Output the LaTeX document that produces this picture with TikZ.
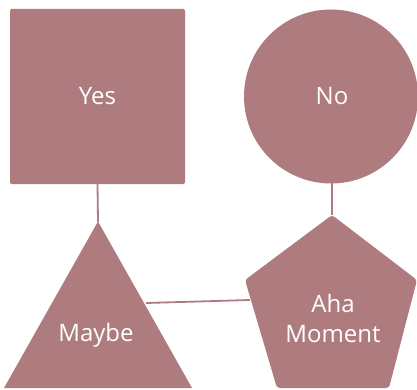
\documentclass[tikz,border=0pt]{standalone}
\usepackage{fontspec}
\setmainfont{Open Sans}
\definecolor{rose}{HTML}{AE7B7F}
\begin{document}
\begin{tikzpicture}[x=1pt,y=-1pt,
  shapefill/.style={fill=rose,draw=none},
  lbl/.style={text=white,font=\fontsize{24}{30}\selectfont,align=center,inner sep=0pt},
  link/.style={draw=rose,line width=1.8pt}]
\useasboundingbox (0,0) rectangle (417,390);
% square
\path[shapefill,rounded corners=1.5pt] (10,9) rectangle (185,184);
\coordinate (sqb) at (97.5,184);
% circle
\path[shapefill] (331,96.5) circle (87);
\coordinate (cib) at (332,183);
% triangle
\path[shapefill] (98,221.5) -- (192,388) -- (4,388) -- cycle;
\coordinate (tra) at (98,222);
\coordinate (trr) at (146,303);
% pentagon
\path[shapefill,rounded corners=3pt] (332,215) -- (417,280) -- (389,388) -- (277,388) -- (245,280) -- cycle;
\coordinate (pet) at (332,215);
\coordinate (pel) at (250,300);
% connectors
\draw[link] (sqb) -- (tra);
\draw[link] (cib) -- (pet);
\draw[link] (trr) -- (pel);
% labels
\node[lbl] (yes) at (97.5,96.5) {Yes};
\node[lbl] (no) at (332,96.5) {No};
\node[lbl] (maybe) at (96,335) {Maybe};
\node[lbl] (aha) at (333,318) {Aha\\Moment};
\end{tikzpicture}
\end{document}
